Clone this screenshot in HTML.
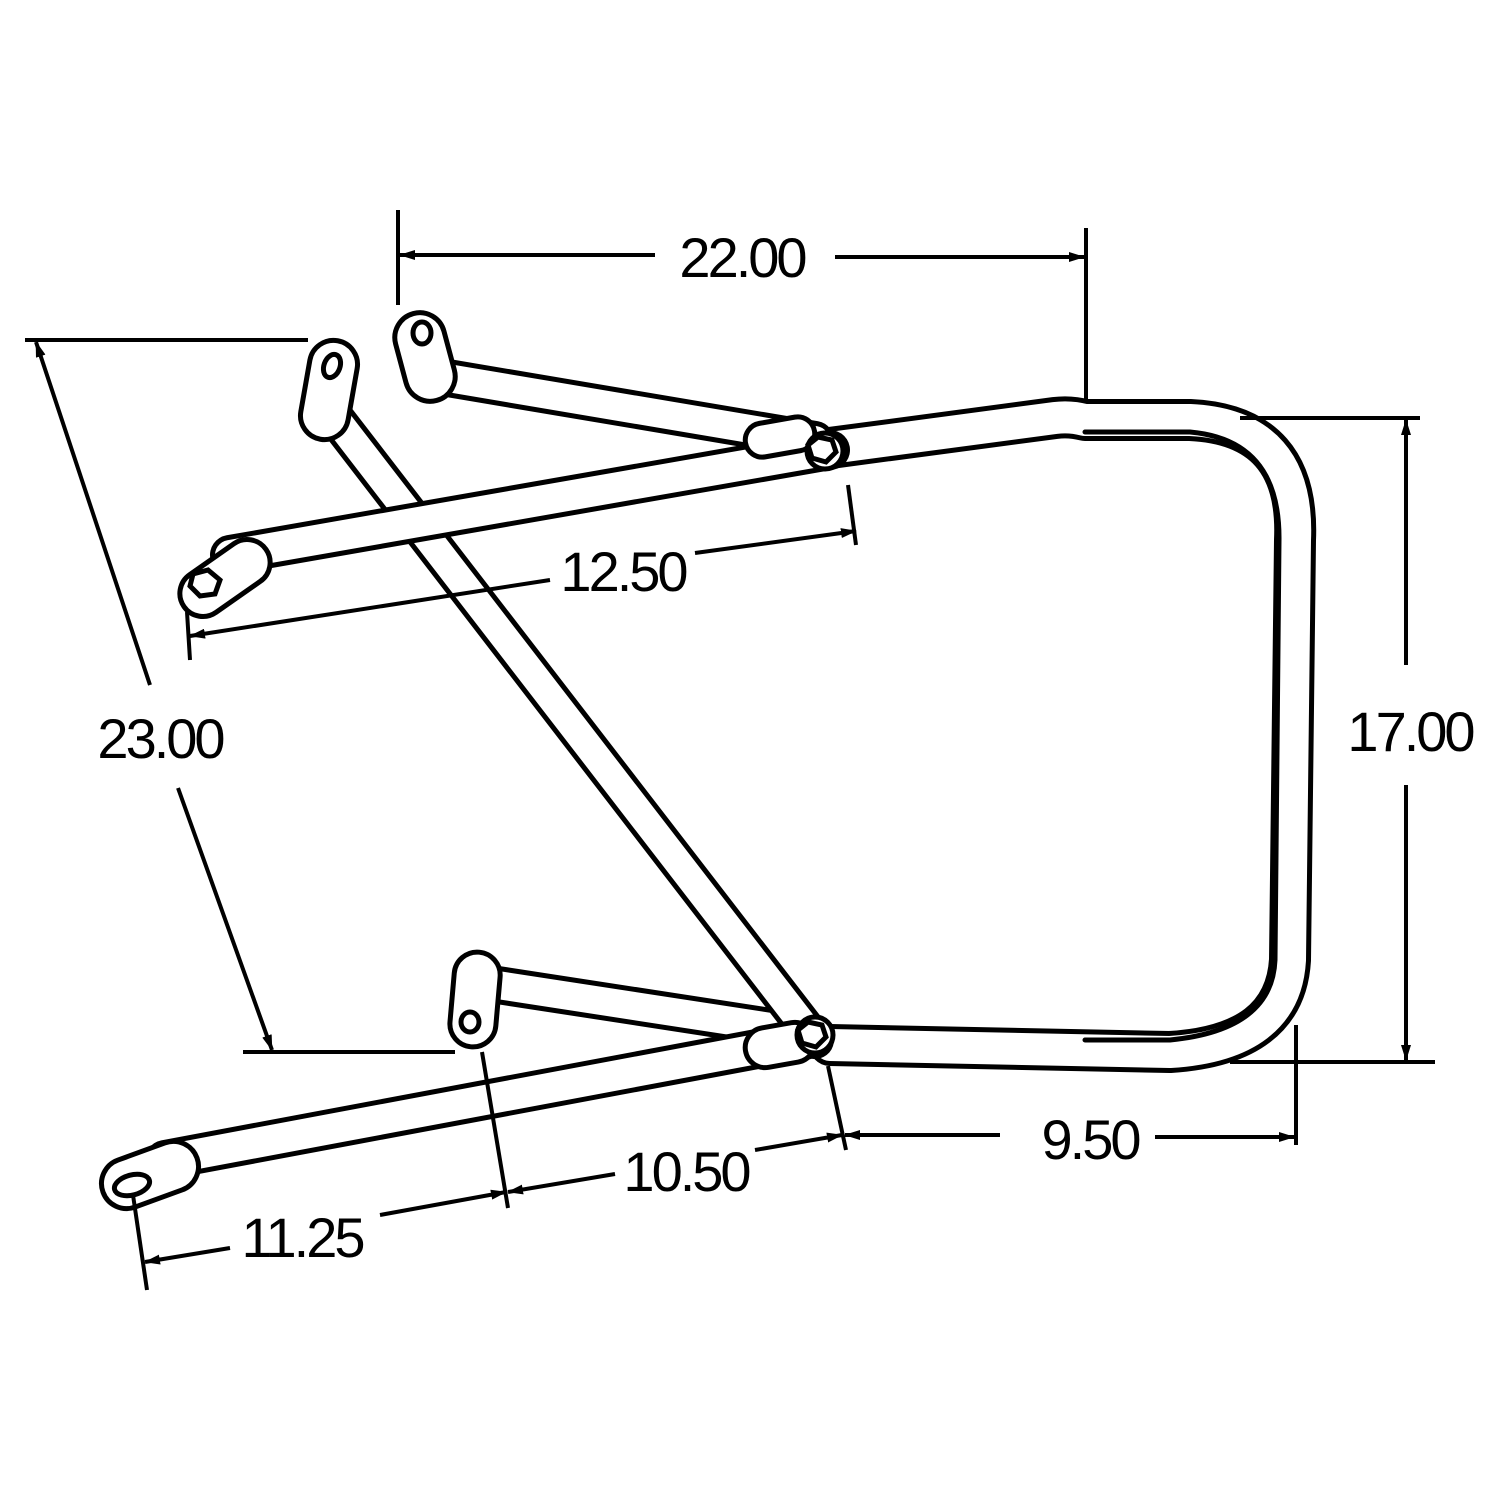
<!DOCTYPE html>
<html><head><style>html,body{margin:0;padding:0;background:#fff}</style></head>
<body>
<svg width="1500" height="1500" viewBox="0 0 1500 1500" xmlns="http://www.w3.org/2000/svg">
<defs>
<marker id="a" markerWidth="16" markerHeight="10" refX="15" refY="5" orient="auto" markerUnits="userSpaceOnUse"><path d="M0,0 L16,5 L0,10 Z" fill="#000"/></marker>
<marker id="b" markerWidth="16" markerHeight="10" refX="1" refY="5" orient="auto" markerUnits="userSpaceOnUse"><path d="M16,0 L0,5 L16,10 Z" fill="#000"/></marker>
</defs>
<rect width="1500" height="1500" fill="#fff"/>
<g fill="none" stroke-linecap="round" stroke-linejoin="round">
<path d="M830,448 L1055,418 Q1070,416 1085,420 L1190,420 Q1300,425 1295,540 L1290,960 Q1285,1045 1170,1052 L830,1045" stroke="#000" stroke-width="42"/>
<path d="M830,448 L1055,418 Q1070,416 1085,420 L1190,420 Q1300,425 1295,540 L1290,960 Q1285,1045 1170,1052 L830,1045" stroke="#fff" stroke-width="32"/>
<path d="M1085,432 L1190,432 Q1280,440 1279,540 L1275,960 Q1272,1030 1170,1040 L1085,1040" stroke="#000" stroke-width="5"/>
<path d="M430,375 L815,440" stroke="#000" stroke-width="38"/>
<path d="M430,375 L815,440" stroke="#fff" stroke-width="28"/>
<path d="M478,982 L790,1030" stroke="#000" stroke-width="38"/>
<path d="M478,982 L790,1030" stroke="#fff" stroke-width="28"/>
<path d="M333,415 L815,1040" stroke="#000" stroke-width="38"/>
<path d="M333,415 L815,1040" stroke="#fff" stroke-width="28"/>
<path d="M230,555 L830,450" stroke="#000" stroke-width="40"/>
<path d="M230,555 L830,450" stroke="#fff" stroke-width="30"/>
<path d="M165,1160 L805,1040" stroke="#000" stroke-width="40"/>
<path d="M165,1160 L805,1040" stroke="#fff" stroke-width="30"/>
</g>
<g fill="#fff" stroke="#000" stroke-width="5">
<rect x="305" y="340" width="48" height="100" rx="24" transform="rotate(10 329 390)"/>
<ellipse cx="332" cy="366" rx="8" ry="12" transform="rotate(20 332 366)"/>
<rect x="400" y="312" width="50" height="90" rx="25" transform="rotate(-15 425 357)"/>
<ellipse cx="422" cy="333" rx="9" ry="11"/>
<rect x="452" y="952" width="46" height="95" rx="23" transform="rotate(5 475 1000)"/>
<ellipse cx="470" cy="1022" rx="9" ry="10"/>
<rect x="175" y="555" width="100" height="46" rx="23" transform="rotate(-35 225 578)"/>
<polygon points="193,574 208,570 220,580 215,594 200,596 190,586"/>
<rect x="100" y="1150" width="100" height="50" rx="25" transform="rotate(-20 150 1175)"/>
<ellipse cx="132" cy="1185" rx="18" ry="10" transform="rotate(-15 132 1185)"/>
<rect x="745" y="420" width="70" height="34" rx="17" transform="rotate(-10 780 437)"/>
<rect x="745" y="1025" width="70" height="40" rx="20" transform="rotate(-10 780 1045)"/>
<circle cx="825" cy="451" r="18"/>
<polygon points="808,445 818,437 832,440 836,452 826,462 812,458"/>
<circle cx="815" cy="1035" r="18"/>
<polygon points="798,1030 808,1022 822,1025 826,1037 816,1047 802,1043"/>
</g>
<g stroke="#000" stroke-width="4" fill="none">
<line x1="398" y1="210" x2="398" y2="305"/>
<line x1="1086" y1="228" x2="1086" y2="400"/>
<line x1="400" y1="255" x2="655" y2="255" marker-start="url(#b)"/>
<line x1="835" y1="257" x2="1084" y2="257" marker-end="url(#a)"/>
<line x1="25" y1="340" x2="308" y2="340"/>
<line x1="243" y1="1052" x2="455" y2="1052"/>
<line x1="36" y1="342" x2="150" y2="685" marker-start="url(#b)"/>
<line x1="178" y1="788" x2="272" y2="1050" marker-end="url(#a)"/>
<line x1="1240" y1="418" x2="1420" y2="418"/>
<line x1="1230" y1="1062" x2="1435" y2="1062"/>
<line x1="1406" y1="420" x2="1406" y2="665" marker-start="url(#b)"/>
<line x1="1406" y1="785" x2="1406" y2="1060" marker-end="url(#a)"/>
<line x1="187" y1="612" x2="190" y2="660"/>
<line x1="848" y1="485" x2="856" y2="545"/>
<line x1="190" y1="636" x2="550" y2="580" marker-start="url(#b)"/>
<line x1="695" y1="553" x2="856" y2="531" marker-end="url(#a)"/>
<line x1="1296" y1="1025" x2="1296" y2="1145"/>
<line x1="828" y1="1066" x2="846" y2="1150"/>
<line x1="845" y1="1135" x2="1000" y2="1135" marker-start="url(#b)"/>
<line x1="1155" y1="1137" x2="1294" y2="1137" marker-end="url(#a)"/>
<line x1="482" y1="1052" x2="508" y2="1208"/>
<line x1="508" y1="1192" x2="615" y2="1174" marker-start="url(#b)"/>
<line x1="755" y1="1150" x2="842" y2="1135" marker-end="url(#a)"/>
<line x1="133" y1="1195" x2="147" y2="1290"/>
<line x1="145" y1="1262" x2="230" y2="1248" marker-start="url(#b)"/>
<line x1="380" y1="1215" x2="506" y2="1192" marker-end="url(#a)"/>
</g>
<g font-family="Liberation Sans, sans-serif" font-size="56" fill="#000" text-anchor="middle" letter-spacing="-3">
<text x="742" y="277">22.00</text>
<text x="160" y="758">23.00</text>
<text x="1410" y="751">17.00</text>
<text x="623" y="591">12.50</text>
<text x="1090" y="1159">9.50</text>
<text x="686" y="1191">10.50</text>
<text x="302" y="1257">11.25</text>
</g>
</svg>
</body></html>
